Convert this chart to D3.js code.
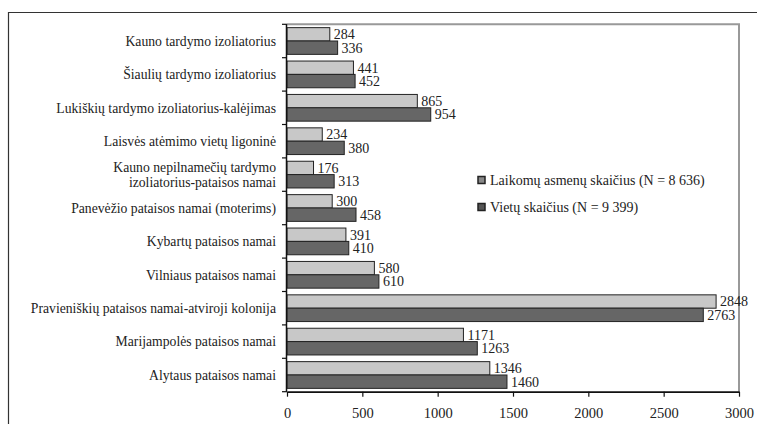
<!DOCTYPE html>
<html>
<head>
<meta charset="utf-8">
<script src="https://cdn.jsdelivr.net/npm/d3@7"></script>
<style>
  body { margin: 0; background: #fff; }
</style>
</head>
<body>
<svg id="chart" width="757" height="424" font-family="Liberation Serif"></svg>
<script>
// duomenys
const categories = [
  'Kauno tardymo izoliatorius',
  'Šiaulių tardymo izoliatorius',
  'Lukiškių tardymo izoliatorius-kalėjimas',
  'Laisvės atėmimo vietų ligoninė',
  'Kauno nepilnamečių tardymo|izoliatorius-pataisos namai',
  'Panevėžio pataisos namai (moterims)',
  'Kybartų pataisos namai',
  'Vilniaus pataisos namai',
  'Pravieniškių pataisos namai-atviroji kolonija',
  'Marijampolės pataisos namai',
  'Alytaus pataisos namai'
]
const held = [284, 441, 865, 234, 176, 300, 391, 580, 2848, 1171, 1346]
const places = [336, 452, 954, 380, 313, 458, 410, 610, 2763, 1263, 1460]
const seriesNames = ['Laikomų asmenų skaičius (N = 8 636)', 'Vietų skaičius (N = 9 399)']
const xTicks = [0, 500, 1000, 1500, 2000, 2500, 3000]

const FONT = 'Liberation Serif'
const colors = ['#c8c8c8', '#666666']
const svg = d3.select('#chart')

// page frame
svg.append('line').attr('x1', 8).attr('x2', 757).attr('y1', 12.5).attr('y2', 12.5)
  .attr('stroke', '#333').attr('stroke-width', 1.2)
svg.append('line').attr('x1', 8.5).attr('x2', 8.5).attr('y1', 12).attr('y2', 424)
  .attr('stroke', '#333').attr('stroke-width', 1.2)

const x = d3.scaleLinear().domain([0, 3000]).range([287, 739])
const y = d3.scaleBand().domain(categories).range([24.3, 391.7]).padding(0)
const step = y.bandwidth()

// plot frame (grey top + right)
svg.append('path')
  .attr('d', `M${x(0)},${y.range()[0]}H${x(3000)}V${y.range()[1]}`)
  .attr('fill', 'none').attr('stroke', '#999').attr('stroke-width', 2)

const rows = categories.map((c, i) => ({ cat: c, vals: [held[i], places[i]] }))

const g = svg.append('g')
const grp = g.selectAll('g.row').data(rows).enter().append('g')
  .attr('transform', d => `translate(0,${y(d.cat)})`)

grp.selectAll('rect').data(d => d.vals).enter().append('rect')
  .attr('x', x(0))
  .attr('y', (d, j) => step * 0.1 + j * step * 0.4)
  .attr('width', d => x(d) - x(0))
  .attr('height', step * 0.4)
  .attr('fill', (d, j) => colors[j])
  .attr('stroke', '#222').attr('stroke-width', 1)

grp.selectAll('text.val').data(d => d.vals).enter().append('text')
  .attr('class', 'val')
  .attr('x', d => x(d) + 4)
  .attr('y', (d, j) => step * 0.1 + j * step * 0.4 + step * 0.2)
  .attr('dy', '0.35em')
  .attr('font-family', FONT)
  .attr('font-size', 14).attr('fill', '#222')
  .text(d => d)

// category labels
grp.each(function (d) {
  const lines = d.cat.split('|')
  const t = d3.select(this).append('text')
    .attr('x', 276).attr('text-anchor', 'end')
    .attr('font-family', FONT)
    .attr('font-size', 13.7).attr('fill', '#222')
  lines.forEach((l, k) => {
    t.append('tspan').attr('x', 276)
      .attr('y', step / 2 + (k - (lines.length - 1) / 2) * 15)
      .attr('dy', '0.35em').text(l)
  })
})

// y axis with ticks at band edges
const yEdges = categories.map(c => y(c)).concat([y.range()[1]])
svg.append('line').attr('x1', x(0) - 0.5).attr('x2', x(0) - 0.5)
  .attr('y1', y.range()[0]).attr('y2', y.range()[1])
  .attr('stroke', '#111').attr('stroke-width', 1.5)
svg.selectAll('line.ytick').data(yEdges).enter().append('line')
  .attr('class', 'ytick')
  .attr('x1', x(0) - 5).attr('x2', x(0))
  .attr('y1', d => d).attr('y2', d => d)
  .attr('stroke', '#111').attr('stroke-width', 1.2)

// x axis
const xAxis = svg.append('g')
  .attr('transform', `translate(0,${y.range()[1]})`)
  .call(d3.axisBottom(x).tickValues(xTicks).tickFormat(d3.format('d'))
    .tickSize(5).tickSizeOuter(0).tickPadding(11))
xAxis.attr('font-family', FONT)
xAxis.select('.domain').attr('stroke', '#111').attr('stroke-width', 1.8)
xAxis.selectAll('.tick line').attr('stroke', '#111').attr('stroke-width', 1.2)
xAxis.selectAll('.tick text').attr('font-size', 14.5).attr('fill', '#222')
  .attr('font-family', FONT)

// legend
const leg = svg.append('g').attr('transform', 'translate(478,180)')
seriesNames.forEach((name, j) => {
  const row = leg.append('g').attr('transform', `translate(0,${j * 27})`)
  row.append('rect').attr('x', 0).attr('y', -3.5).attr('width', 7).attr('height', 7)
    .attr('fill', j === 0 ? '#888' : '#555').attr('stroke', '#222').attr('stroke-width', 1.5)
  row.append('text').attr('x', 12).attr('y', 0).attr('dy', '0.35em')
    .attr('font-family', FONT)
    .attr('font-size', 14).attr('fill', '#222').text(name)
})
</script>
</body>
</html>
